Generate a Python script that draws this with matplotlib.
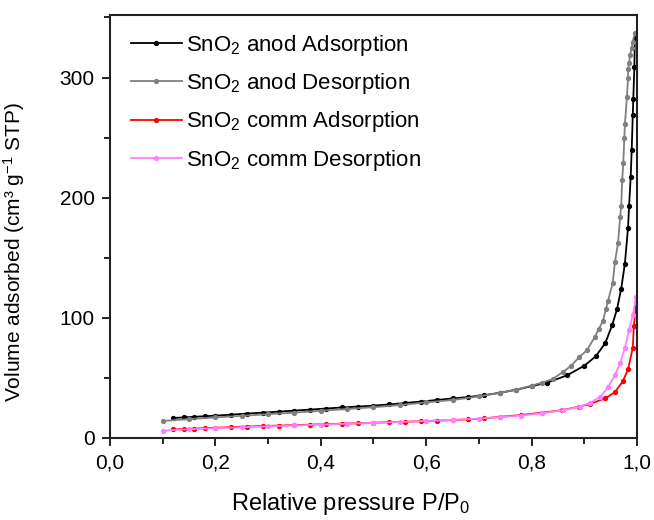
import numpy as np
import matplotlib
matplotlib.use('Agg')
import matplotlib.pyplot as plt
from matplotlib.ticker import MultipleLocator, FuncFormatter

plt.rcParams['font.family'] = ['Liberation Sans', 'DejaVu Sans']
plt.rcParams['mathtext.default'] = 'regular'

# SnO2 anod - adsorption branch
anod_ads_x = [0.12, 0.14, 0.16, 0.18, 0.20, 0.23, 0.26, 0.29, 0.32, 0.35, 0.38, 0.41,
              0.44, 0.47, 0.50, 0.53, 0.56, 0.59, 0.62, 0.65, 0.68, 0.71, 0.74, 0.77,
              0.80, 0.83, 0.867, 0.90, 0.922, 0.94, 0.953, 0.962, 0.970, 0.977, 0.983,
              0.985, 0.988, 0.990, 0.992, 0.993, 0.995, 0.996]
anod_ads_y = [16.5, 17.0, 17.5, 18.0, 18.5, 19.3, 20.2, 21.0, 21.8, 22.7, 23.5, 24.4,
              25.3, 26.0, 26.8, 27.8, 29.0, 30.2, 31.5, 32.8, 34.0, 35.5, 37.5, 40.0,
              43.0, 46.0, 52.0, 60.0, 68.0, 79.0, 94.0, 107.0, 124.0, 145.0, 175.0,
              193.0, 217.0, 240.0, 269.0, 282.0, 309.0, 333.0]

# SnO2 anod - desorption branch
anod_des_x = [0.996, 0.992, 0.990, 0.987, 0.985, 0.983, 0.983, 0.981, 0.977, 0.976,
              0.974, 0.972, 0.970, 0.968, 0.964, 0.958, 0.954, 0.945, 0.941, 0.935,
              0.928, 0.920, 0.905, 0.890, 0.875, 0.860, 0.840, 0.820, 0.800, 0.770,
              0.740, 0.700, 0.650, 0.600, 0.550, 0.500, 0.450, 0.400, 0.350, 0.300,
              0.250, 0.200, 0.150, 0.100]
anod_des_y = [337.0, 330.0, 325.0, 319.0, 312.0, 307.0, 300.0, 284.0, 261.0, 250.0,
              229.0, 215.0, 193.0, 184.0, 162.0, 146.0, 129.0, 114.0, 107.0, 97.0,
              91.0, 84.0, 73.0, 67.0, 60.0, 55.0, 49.0, 46.0, 43.5, 40.0,
              37.5, 34.5, 31.5, 29.5, 27.3, 25.5, 24.0, 22.5, 21.0, 19.7,
              18.3, 17.0, 15.6, 14.0]

# SnO2 comm - adsorption branch
comm_ads_x = [0.12, 0.14, 0.16, 0.18, 0.20, 0.23, 0.26, 0.29, 0.32, 0.35, 0.38, 0.41,
              0.44, 0.47, 0.50, 0.53, 0.56, 0.59, 0.62, 0.65, 0.68, 0.71, 0.74, 0.78,
              0.82, 0.858, 0.89, 0.91, 0.94, 0.958, 0.973, 0.983, 0.992, 0.994, 0.998]
comm_ads_y = [7.0, 7.3, 7.7, 8.0, 8.4, 8.9, 9.4, 9.8, 10.2, 10.6, 11.0, 11.4,
              11.8, 12.2, 12.6, 13.0, 13.4, 13.8, 14.3, 14.8, 15.4, 16.2, 17.5, 19.0,
              21.0, 23.0, 26.0, 28.0, 33.0, 38.0, 47.0, 57.0, 75.0, 93.0, 109.0]

# SnO2 comm - desorption branch
comm_des_x = [0.998, 0.992, 0.985, 0.977, 0.968, 0.958, 0.945, 0.930, 0.910, 0.892,
              0.860, 0.820, 0.780, 0.740, 0.700, 0.650, 0.600, 0.550, 0.500, 0.450,
              0.400, 0.350, 0.300, 0.250, 0.200, 0.150, 0.100]
comm_des_y = [117.0, 102.0, 90.0, 75.0, 62.0, 52.0, 42.0, 34.0, 29.0, 26.0,
              23.0, 20.5, 18.5, 17.3, 16.0, 15.0, 14.0, 13.2, 12.5, 11.8,
              11.0, 10.3, 9.6, 8.8, 8.0, 7.2, 6.0]

fig = plt.figure(figsize=(6.54, 5.2), dpi=100)
ax = fig.add_axes([0.168, 0.158, 0.806, 0.813])

ax.plot(anod_ads_x, anod_ads_y, '-o', color='black', lw=1.3, ms=2.8, label='SnO$_2$ anod Adsorption')
ax.plot(anod_des_x, anod_des_y, '-o', color='#808080', lw=1.3, ms=2.8, label='SnO$_2$ anod Desorption')
ax.plot(comm_ads_x, comm_ads_y, '-o', color='red', lw=1.3, ms=2.8, label='SnO$_2$ comm Adsorption')
ax.plot(comm_des_x, comm_des_y, '-o', color='#ff80ff', lw=1.3, ms=2.8, label='SnO$_2$ comm Desorption')

ax.set_xlim(0, 1.0)
ax.set_ylim(0, 352)
ax.xaxis.set_major_locator(MultipleLocator(0.2))
ax.xaxis.set_minor_locator(MultipleLocator(0.1))
ax.yaxis.set_major_locator(MultipleLocator(100))
ax.yaxis.set_minor_locator(MultipleLocator(50))
ax.xaxis.set_major_formatter(FuncFormatter(lambda v, p: ('%.1f' % v).replace('.', ',')))

ax.tick_params(which='major', direction='out', length=6, width=1.2, labelsize=15, pad=5)
ax.tick_params(which='minor', direction='out', length=4, width=1.2)
ax.tick_params(top=False, right=False, which='both')
for s in ax.spines.values():
    s.set_linewidth(1.5)
    s.set_color('#222222')

ax.set_xlabel('Relative pressure P/P$_0$', fontsize=17)
ax.set_ylabel('Volume adsorbed (cm³ g$^{-1}$ STP)', fontsize=15)
ax.xaxis.set_label_coords(0.457, -0.125)
ax.yaxis.set_label_coords(-0.158, 0.44)

ax.legend(loc='upper left', frameon=False, fontsize=16, numpoints=1, handlelength=2.3,
          handletextpad=0.2, labelspacing=0.6, bbox_to_anchor=(0.01, 0.995), borderaxespad=0.3)

fig.savefig('out.png', dpi=100)
